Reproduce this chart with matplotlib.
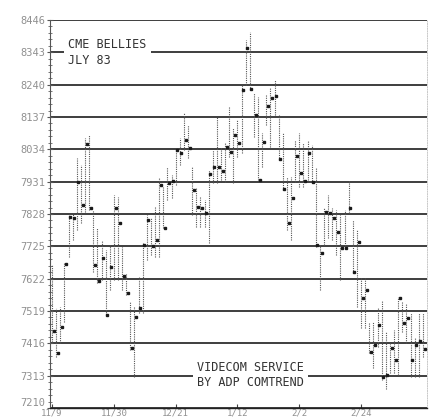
import matplotlib
matplotlib.use("Agg")
import matplotlib.pyplot as plt
from matplotlib.ticker import MultipleLocator

# daily high / low / close, July 83 pork bellies
HIGHS = [7665, 7528, 7531, 7671, 7827, 7831, 8006, 7984, 8070, 8079,
         7840, 7783, 7744, 7713, 7728, 7888, 7882, 7722, 7639, 7547,
         7531, 7626, 7735, 7824, 7815, 7850, 7945, 7913, 7977, 7952,
         8031, 8070, 8149, 8111, 7977, 7913, 7882, 7872, 7968, 8031,
         8137, 8041, 8054, 8169, 8102, 8127, 8239, 8382, 8408, 8213,
         8200, 8086, 8207, 8229, 8255, 8143, 8086, 7945, 7945, 8063,
         8086, 8054, 8063, 8047, 7974, 7728, 7846, 7888, 7846, 7840,
         7824, 7840, 7936, 7808, 7776, 7626, 7626, 7480, 7483, 7531,
         7553, 7451, 7419, 7457, 7563, 7547, 7544, 7512, 7435, 7512,
         7512]
LOWS = [7419, 7371, 7416, 7483, 7690, 7744, 7776, 7799, 7834, 7840,
        7642, 7607, 7617, 7505, 7585, 7617, 7617, 7585, 7569, 7394,
        7308, 7512, 7512, 7681, 7697, 7690, 7690, 7783, 7872, 7878,
        7920, 7984, 8031, 8006, 7824, 7786, 7786, 7786, 7735, 7926,
        7926, 7936, 7929, 8009, 7926, 8009, 8022, 8239, 8223, 8073,
        7936, 7977, 8111, 8041, 8143, 7999, 7904, 7776, 7744, 7929,
        7913, 7913, 7936, 7926, 7722, 7585, 7728, 7751, 7744, 7697,
        7617, 7719, 7831, 7639, 7531, 7464, 7464, 7384, 7339, 7403,
        7298, 7272, 7320, 7320, 7314, 7451, 7416, 7308, 7308, 7308,
        7371]
CLOSES = [7454, 7384, 7467, 7668, 7818, 7815, 7929, 7856, 8051, 7846,
          7665, 7614, 7687, 7505, 7658, 7846, 7799, 7630, 7575, 7400,
          7499, 7528, 7728, 7808, 7725, 7744, 7920, 7783, 7926, 7933,
          8031, 8022, 8063, 8038, 7904, 7850, 7846, 7831, 7955, 7977,
          7977, 7964, 8041, 8025, 8079, 8054, 8223, 8357, 8226, 8143,
          7936, 8057, 8172, 8197, 8204, 8003, 7907, 7799, 7878, 8012,
          7958, 7933, 8022, 7929, 7728, 7703, 7834, 7831, 7815, 7770,
          7719, 7719, 7846, 7642, 7738, 7560, 7585, 7387, 7410, 7473,
          7308, 7314, 7400, 7362, 7560, 7480, 7496, 7362, 7410, 7425,
          7397]

Y_TICKS = [7210, 7313, 7416, 7519, 7622, 7725, 7828, 7931, 8034, 8137,
           8240, 8343, 8446]
DATE_POS = [0, 15, 30, 45, 60, 75]
DATE_LABELS = ["11/9", "11/30", "12/21", "1/12", "2/2", "2/24"]

FONT = "DejaVu Sans Mono"


def main() -> None:
    fig = plt.figure(figsize=(4.30, 4.18), dpi=100)
    ax = fig.add_axes([50 / 430, 10 / 418, 377 / 430, 388 / 418])

    xs = list(range(len(CLOSES)))
    ax.vlines(xs, LOWS, HIGHS, colors="#555555", linestyles=(0, (1, 1)),
              linewidth=0.8, zorder=3)
    ax.plot([x + 0.4 for x in xs], CLOSES, linestyle="none", marker="s",
            markersize=1.6, color="#1a1a1a", zorder=4)

    ax.set_xlim(-0.5, 91)
    ax.set_ylim(Y_TICKS[0], Y_TICKS[-1])

    ax.set_yticks(Y_TICKS)
    ylabels = ax.set_yticklabels([str(v) for v in Y_TICKS], fontfamily=FONT,
                                 fontsize=7.5, color="#909090")
    # bottom label sits a little above the axis, as on the original
    ylabels[0].set_verticalalignment("bottom")
    ax.yaxis.set_minor_locator(MultipleLocator(103 / 5))
    ax.tick_params(axis="y", which="major", direction="inout", length=5,
                   width=0.8, color="#555", pad=1)
    ax.tick_params(axis="y", which="minor", direction="inout", length=3,
                   width=0.7, color="#777")

    ax.set_xticks(DATE_POS)
    ax.set_xticklabels(DATE_LABELS, fontfamily=FONT, fontsize=6.5,
                       color="#909090")
    ax.tick_params(axis="x", direction="in", length=3, width=0.8,
                   color="#444", pad=0.5)

    ax.yaxis.grid(True, color="#1e1e1e", linewidth=1.2)
    ax.set_axisbelow(True)

    ax.spines["top"].set_visible(False)
    ax.spines["left"].set_color("#555")
    ax.spines["left"].set_linewidth(0.8)
    ax.spines["bottom"].set_color("#222")
    ax.spines["bottom"].set_linewidth(1.0)
    ax.spines["right"].set_color("#c8c8c8")
    ax.spines["right"].set_linestyle((0, (1, 1.5)))
    ax.spines["right"].set_linewidth(0.7)

    box = dict(facecolor="white", edgecolor="none", pad=3)
    ax.text(0.048, 0.953, "CME BELLIES\nJLY 83", transform=ax.transAxes,
            fontfamily=FONT, fontsize=8.5, color="#333", va="top", ha="left",
            linespacing=1.25, bbox=box, zorder=5)
    ax.text(0.39, 0.122, "VIDECOM SERVICE\nBY ADP COMTREND",
            transform=ax.transAxes, fontfamily=FONT, fontsize=8.5,
            color="#333", va="top", ha="left", linespacing=1.25, bbox=box,
            zorder=5)

    fig.savefig("out.png", dpi=100)


if __name__ == "__main__":
    main()
